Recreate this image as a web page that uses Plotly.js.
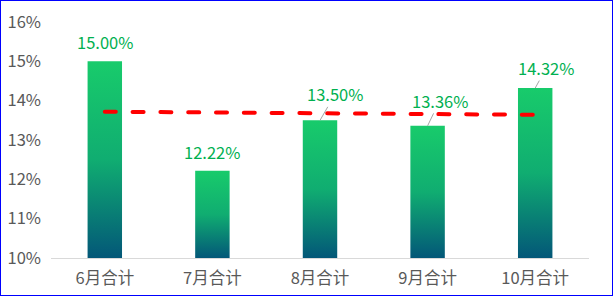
<!DOCTYPE html>
<html>
<head>
<meta charset="utf-8">
<script src="https://cdn.plot.ly/plotly-3.0.1.min.js"></script>
<style>
  html, body { margin: 0; padding: 0; background: #fff; }
  #wrap { position: relative; width: 613px; height: 296px; }
  #chart { width: 613px; height: 296px; }
  #frame { position: absolute; left: 0; top: 0; width: 611px; height: 294px; border: 1px solid #0000FF; pointer-events: none; }
</style>
</head>
<body>
<div id="wrap"><div id="chart"></div><div id="frame"></div></div>
<svg width="0" height="0" style="position:absolute;left:0;top:0;overflow:hidden">
  <defs>
    <linearGradient id="barGrad" x1="0" y1="0" x2="0" y2="1">
      <stop offset="0" stop-color="#18CB6B"/>
      <stop offset="0.5" stop-color="#10AD71"/>
      <stop offset="1" stop-color="#035778"/>
    </linearGradient>
  </defs>
</svg>
<script>
const categories = ['6月合计', '7月合计', '8月合计', '9月合计', '10月合计'];
const values = [15.00, 12.22, 13.50, 13.36, 14.32];
const labels = ['15.00%', '12.22%', '13.50%', '13.36%', '14.32%'];
const trendX = ['6月合计', '10月合计'];
const trendY = [13.72, 13.64];
const yTicks = [10, 11, 12, 13, 14, 15, 16];
const yTickText = ['10%', '11%', '12%', '13%', '14%', '15%', '16%'];
const axisFloor = 10;   // bars start at the axis floor (Excel axis minimum)

// label offsets in pixels (layout only)
const labelOffsets = [
  { ax: 0, ay: -19, arrow: false },
  { ax: 0, ay: -19, arrow: false },
  { ax: 15, ay: -26, arrow: true },
  { ax: 12, ay: -25, arrow: true },
  { ax: 11, ay: -20, arrow: true }
];

const font = 'Noto Sans CJK SC, Microsoft YaHei, sans-serif';

const bars = {
  type: 'bar', x: categories,
  y: values.map(v => v - axisFloor), base: axisFloor,
  customdata: values,
  width: 0.32,
  marker: { color: '#14C86A', line: { width: 0 } },
  hoverinfo: 'skip', showlegend: false
};
const trend = {
  type: 'scatter', mode: 'lines', x: trendX, y: trendY,
  line: { color: '#FF0000', width: 4, dash: '11px,16.8px' },
  hoverinfo: 'skip', showlegend: false
};

const annotations = values.map((v, i) => {
  const o = labelOffsets[i];
  return {
    x: categories[i], y: v, xref: 'x', yref: 'y',
    text: labels[i],
    font: { family: font, size: 16.5, color: '#00B050' },
    showarrow: true,
    arrowhead: 0, arrowwidth: 1, arrowcolor: o.arrow ? '#A6A6A6' : 'rgba(0,0,0,0)',
    ax: o.ax, ay: o.ay, standoff: 0, borderpad: 0
  };
});

const layout = {
  width: 613, height: 296,
  margin: { l: 51, r: 24, t: 22, b: 38 },
  paper_bgcolor: '#fff', plot_bgcolor: '#fff',
  xaxis: {
    type: 'category', showgrid: false, zeroline: false,
    showline: true, linecolor: '#D9D9D9', linewidth: 1,
    ticks: '', ticklabelstandoff: 5,
    tickfont: { family: font, size: 16.5, color: '#595959' }
  },
  yaxis: {
    range: [10, 16], tickvals: yTicks, ticktext: yTickText,
    showgrid: false, zeroline: false, showline: false, ticks: '',
    ticklabelstandoff: 9,
    tickfont: { family: font, size: 16.5, color: '#595959' }
  },
  annotations: annotations
};

function applyStyling() {
  const gd = document.getElementById('chart');
  gd.querySelectorAll('.barlayer path').forEach(p => {
    p.style.setProperty('fill', 'url(#barGrad)', 'important');
  });
  gd.querySelectorAll('.scatterlayer .js-line').forEach(p => {
    p.style.strokeLinecap = 'round';
  });
}

const gd = document.getElementById('chart');
Plotly.newPlot(gd, [bars, trend], layout, { displayModeBar: false, staticPlot: true });
applyStyling();
setTimeout(applyStyling, 50);
</script>
</body>
</html>
